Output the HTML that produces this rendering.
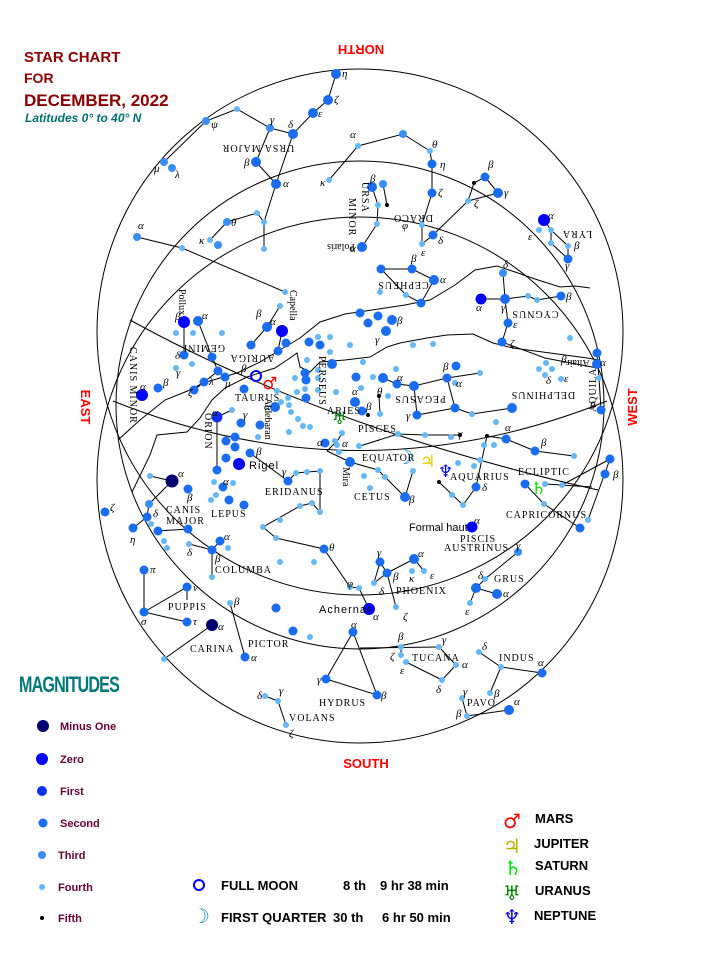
<!DOCTYPE html>
<html><head><meta charset="utf-8"><style>
html,body{margin:0;padding:0;background:#fff;}
svg{display:block;}
.l{stroke:#000;stroke-width:1;fill:none;}
.a{fill:#66b8f5}.b{fill:#3a8ef5}.c{fill:#1a6cf0}.d{fill:#0a30f0}.e{fill:#0000ff}.f{fill:#000070}.g{fill:#000}
.t{font-family:"Liberation Serif",serif;font-size:10px;letter-spacing:1px;fill:#000}
.gk{font-family:"Liberation Serif",serif;font-size:11px;font-style:italic;fill:#000}
.s{font-family:"Liberation Sans",sans-serif;font-size:11px;fill:#000}
.lg{font-family:"Liberation Sans",sans-serif;font-size:11px;font-weight:bold;fill:#660033}
.bt{font-family:"Liberation Sans",sans-serif;font-size:13px;font-weight:bold;fill:#000}
.dir{font-family:"Liberation Sans",sans-serif;font-size:13px;font-weight:bold;fill:#ff0000}
.pl{font-family:"DejaVu Sans",sans-serif;font-size:17px;font-weight:bold}
</style></head><body>
<svg width="719" height="959" viewBox="0 0 719 959" xmlns="http://www.w3.org/2000/svg">
<text x="24" y="62" style="font-family:'Liberation Sans',sans-serif;font-size:15px;font-weight:bold;fill:#8b0000">STAR CHART</text>
<text x="24" y="83" style="font-family:'Liberation Sans',sans-serif;font-size:14px;font-weight:bold;fill:#8b0000">FOR</text>
<text x="24" y="106" style="font-family:'Liberation Sans',sans-serif;font-size:17px;font-weight:bold;fill:#8b0000">DECEMBER, 2022</text>
<text x="25" y="122" style="font-family:'Liberation Sans',sans-serif;font-size:12px;font-weight:bold;font-style:italic;fill:#007070">Latitudes 0° to 40° N</text>

<text class="dir" transform="translate(361,45) rotate(180)" text-anchor="middle">NORTH</text>
<text class="dir" transform="translate(81,407) rotate(90)" text-anchor="middle">EAST</text>
<text class="dir" transform="translate(637,407) rotate(-90)" text-anchor="middle">WEST</text>
<text class="dir" x="366" y="768" text-anchor="middle">SOUTH</text>

<circle class="l" cx="360" cy="332" r="263"/>
<circle class="l" cx="360" cy="480" r="263"/>
<circle class="l" cx="360" cy="405" r="244"/>

<path class="l" d="M113,401 Q360,500 607,401"/>
<path class="l" d="M130,320 Q330,430 598,490"/>
<polyline class="l" points="118,440 140,420 165,400 190,390 203,383 237,373 260,362 280,350 300,338 320,322 345,314 372,310 405,305 430,300 455,285 475,270 497,266 515,272 535,279 560,287 575,286 590,288"/>
<polyline class="l" points="132,492 150,455 157,435 187,432 200,418 212,400 225,388 247,377 275,368 290,358 297,353 300,367 310,372 320,362 345,360 370,357 387,347 400,343 427,338 447,335 473,334 493,343 513,348 550,353 580,357 600,360"/>

<g class="l">
<polyline points="336,74 328,100 313,113 293,134 270,128 237,109 206,121 164,162"/>
<polyline points="270,128 256,162 276,184 293,134"/>
<polyline points="276,184 264,222 264,249"/>
<polyline points="264,222 257,213 227,222 210,240"/>
<polyline points="137,237 182,248 285,292"/>
<polyline points="329,180 358,146 403,134 430,151 432,164 432,193 422,225 422,244 433,235 468,201 474,183 485,177 498,193 468,201"/>
<polyline points="372,187 378,205 377,224 362,247"/><line x1="383" y1="184" x2="387" y2="205"/>
<polyline points="544,220 551,230 568,246 568,259 551,243 551,230"/>
<polyline points="381,269 412,269 434,280 421,303 406,295 381,269"/>
<polyline points="503,273 505,299 508,323 502,342"/><polyline points="481,299 505,299 528,296 537,300 561,296"/>
<polyline points="502,342 545,358 597,368"/><polyline points="597,353 599,378 601,410"/>
<polyline points="383,378 397,384 414,386 447,378 480,373"/><polyline points="447,378 455,408 417,415 414,386"/>
<polyline points="455,408 472,414 512,408"/><polyline points="379,396 380,414"/>
<polyline points="360,446 398,434 425,435 460,435"/>
<polyline points="327,451 338,440 342,433"/><polyline points="327,451 350,462"/>
<polyline points="350,462 378,470 385,477 405,497 413,471"/>
<polyline points="487,436 506,439 535,451 574,456"/>
<polyline points="439,482 463,505 476,487"/><polyline points="487,436 476,487"/>
<polyline points="525,484 544,504 580,528"/><polyline points="562,485 610,459 588,520"/><polyline points="545,484 592,487"/>
<polyline points="184,322 184,355"/><polyline points="198,321 212,357 218,371 225,377"/><polyline points="218,371 204,382 194,390"/>
<polyline points="267,327 280,306"/><polyline points="267,327 251,345"/><polyline points="282,331 278,351"/>
<polyline points="217,417 217,470"/><polyline points="217,417 232,410"/>
<polyline points="250,453 288,481 296,473 307,472 320,471 320,512 312,503 300,506 263,527 276,538 324,549 350,587 359,588 369,609"/>
<polyline points="150,476 172,481"/><polyline points="172,481 149,504 147,517 133,528"/><polyline points="158,531 188,529"/>
<polyline points="189,544 212,550 220,541"/><polyline points="212,550 212,577"/>
<polyline points="144,570 144,612 187,587 187,600"/><polyline points="144,612 187,622"/>
<polyline points="212,625 164,659"/><polyline points="230,603 245,657"/>
<polyline points="353,632 326,679 377,695 353,632"/>
<polyline points="265,696 278,701 286,725"/>
<polyline points="380,562 387,573 374,583 380,562"/><polyline points="387,573 414,559 424,571"/><polyline points="387,573 396,607"/>
<polyline points="518,552 485,579 476,588 497,594"/><polyline points="476,588 470,603"/>
<polyline points="360,648 439,647"/><polyline points="401,647 401,655"/><polyline points="406,662 442,680 456,665 439,647"/>
<polyline points="479,652 501,667 542,673"/><polyline points="501,667 490,693"/>
<polyline points="462,698 467,716 509,710"/>
</g>

<g>
<circle class="c" cx="336" cy="74" r="5"/><circle class="c" cx="328" cy="100" r="5"/><circle class="c" cx="313" cy="113" r="5"/><circle class="c" cx="293" cy="134" r="5"/><circle class="b" cx="270" cy="128" r="4"/><circle class="a" cx="237" cy="109" r="3"/><circle class="b" cx="206" cy="121" r="4"/><circle class="b" cx="164" cy="162" r="4"/><circle class="b" cx="172" cy="168" r="4"/>
<circle class="c" cx="256" cy="162" r="5"/><circle class="c" cx="276" cy="184" r="5"/><circle class="a" cx="264" cy="222" r="3"/><circle class="a" cx="257" cy="213" r="3"/><circle class="b" cx="227" cy="222" r="4"/><circle class="a" cx="210" cy="240" r="3"/><circle class="b" cx="218" cy="245" r="4"/><circle class="a" cx="264" cy="249" r="3"/>
<circle class="b" cx="137" cy="237" r="4"/><circle class="a" cx="182" cy="248" r="3"/><circle class="a" cx="285" cy="292" r="3"/>
<circle class="a" cx="329" cy="180" r="3"/><circle class="a" cx="358" cy="146" r="3"/><circle class="b" cx="403" cy="134" r="4"/><circle class="a" cx="430" cy="151" r="3"/><circle class="c" cx="432" cy="164" r="4.5"/><circle class="c" cx="432" cy="193" r="4.5"/><circle class="a" cx="422" cy="225" r="3"/><circle class="a" cx="422" cy="244" r="3"/><circle class="c" cx="433" cy="235" r="4.5"/><circle class="a" cx="468" cy="201" r="3"/><circle class="g" cx="474" cy="183" r="2"/><circle class="c" cx="485" cy="177" r="4.5"/><circle class="c" cx="498" cy="193" r="5"/>
<circle class="c" cx="372" cy="187" r="5"/><circle class="b" cx="383" cy="184" r="4"/><circle class="a" cx="378" cy="205" r="3"/><circle class="g" cx="387" cy="205" r="2"/><circle class="a" cx="377" cy="224" r="3"/><circle class="c" cx="362" cy="247" r="5"/>
<circle class="e" cx="544" cy="220" r="6"/><circle class="a" cx="539" cy="230" r="3"/><circle class="a" cx="551" cy="230" r="3"/><circle class="a" cx="551" cy="243" r="3"/><circle class="a" cx="568" cy="246" r="3"/><circle class="c" cx="568" cy="259" r="4.5"/>
<circle class="c" cx="381" cy="269" r="4.5"/><circle class="c" cx="412" cy="269" r="4.5"/><circle class="c" cx="434" cy="280" r="5"/><circle class="a" cx="406" cy="295" r="3"/><circle class="c" cx="421" cy="303" r="4.5"/>
<circle class="b" cx="503" cy="273" r="4"/><circle class="c" cx="505" cy="299" r="5"/><circle class="e" cx="481" cy="299" r="5.5"/><circle class="a" cx="528" cy="296" r="3"/><circle class="a" cx="537" cy="300" r="3"/><circle class="c" cx="561" cy="296" r="4.5"/><circle class="c" cx="508" cy="323" r="4.5"/><circle class="c" cx="502" cy="342" r="4.5"/>
<circle class="a" cx="570" cy="338" r="3"/><circle class="c" cx="597" cy="353" r="4.5"/><circle class="c" cx="597" cy="364" r="5"/><circle class="a" cx="599" cy="378" r="3"/><circle class="c" cx="601" cy="410" r="4.5"/>
<circle class="a" cx="546" cy="363" r="3"/><circle class="a" cx="539" cy="369" r="3"/><circle class="a" cx="552" cy="369" r="3"/><circle class="a" cx="545" cy="375" r="3"/><circle class="a" cx="561" cy="379" r="3"/>
<circle class="c" cx="360" cy="313" r="4.5"/><circle class="c" cx="368" cy="323" r="4.5"/><circle class="c" cx="378" cy="316" r="4.5"/><circle class="c" cx="392" cy="320" r="5"/><circle class="c" cx="386" cy="331" r="5"/><circle class="a" cx="380" cy="292" r="3"/><circle class="a" cx="433" cy="344" r="3"/><circle class="a" cx="413" cy="345" r="3"/><circle class="a" cx="350" cy="345" r="3"/>
<circle class="c" cx="383" cy="378" r="5"/><circle class="c" cx="397" cy="384" r="4.5"/><circle class="c" cx="414" cy="386" r="5"/><circle class="c" cx="447" cy="378" r="4.5"/><circle class="a" cx="455" cy="383" r="3"/><circle class="c" cx="456" cy="366" r="4.5"/><circle class="a" cx="480" cy="373" r="3"/><circle class="c" cx="417" cy="415" r="4.5"/><circle class="c" cx="455" cy="408" r="4.5"/><circle class="a" cx="472" cy="414" r="3"/><circle class="c" cx="512" cy="408" r="5"/><circle class="a" cx="363" cy="362" r="3"/><circle class="a" cx="373" cy="377" r="3"/><circle class="a" cx="396" cy="369" r="3"/><circle class="a" cx="496" cy="422" r="3"/><circle class="a" cx="388" cy="396" r="3"/>
<circle class="c" cx="356" cy="377" r="4.5"/><circle class="a" cx="361" cy="388" r="3"/><circle class="c" cx="355" cy="402" r="5"/><circle class="c" cx="362" cy="411" r="4.5"/><circle class="g" cx="368" cy="415" r="2"/><circle class="g" cx="379" cy="396" r="2"/><circle class="a" cx="380" cy="414" r="3"/><circle class="a" cx="336" cy="392" r="3"/>
<circle class="a" cx="398" cy="434" r="3"/><circle class="a" cx="425" cy="435" r="3"/><circle class="a" cx="451" cy="437" r="3"/><circle class="g" cx="460" cy="435" r="2"/><circle class="a" cx="359" cy="446" r="3"/>
<circle class="a" cx="342" cy="433" r="3"/><circle class="a" cx="335" cy="441" r="3"/><circle class="c" cx="325" cy="443" r="4.5"/><circle class="a" cx="337" cy="445" r="3"/><circle class="a" cx="339" cy="452" r="3"/><circle class="c" cx="350" cy="462" r="5"/><circle class="a" cx="364" cy="476" r="3"/><circle class="a" cx="370" cy="488" r="3"/><circle class="a" cx="378" cy="470" r="3"/><circle class="a" cx="385" cy="477" r="3"/><circle class="c" cx="405" cy="497" r="5"/><circle class="a" cx="413" cy="471" r="3"/>
<circle class="a" cx="458" cy="463" r="3"/><circle class="a" cx="474" cy="466" r="3"/><circle class="g" cx="439" cy="482" r="2"/><circle class="a" cx="452" cy="495" r="3"/><circle class="a" cx="463" cy="505" r="3"/><circle class="c" cx="476" cy="487" r="4.5"/><circle class="a" cx="480" cy="460" r="3"/>
<circle class="g" cx="487" cy="436" r="2"/><circle class="a" cx="484" cy="445" r="3"/><circle class="a" cx="494" cy="445" r="3"/><circle class="c" cx="506" cy="439" r="4.5"/><circle class="c" cx="535" cy="451" r="4.5"/><circle class="a" cx="574" cy="456" r="3"/>
<circle class="c" cx="525" cy="484" r="4.5"/><circle class="a" cx="545" cy="484" r="3"/><circle class="a" cx="562" cy="485" r="3"/><circle class="a" cx="544" cy="504" r="3"/><circle class="c" cx="610" cy="459" r="4.5"/><circle class="c" cx="605" cy="474" r="4.5"/><circle class="a" cx="588" cy="520" r="3"/><circle class="c" cx="580" cy="528" r="4.5"/>
<circle class="e" cx="184" cy="322" r="6"/><circle class="c" cx="198" cy="321" r="5"/><circle class="a" cx="176" cy="333" r="3"/><circle class="a" cx="193" cy="333" r="3"/><circle class="a" cx="222" cy="333" r="3"/><circle class="c" cx="184" cy="355" r="4.5"/><circle class="c" cx="212" cy="357" r="4.5"/><circle class="a" cx="192" cy="364" r="3"/><circle class="c" cx="218" cy="371" r="4.5"/><circle class="c" cx="225" cy="377" r="4.5"/><circle class="a" cx="176" cy="368" r="3"/><circle class="c" cx="204" cy="382" r="4.5"/><circle class="c" cx="194" cy="390" r="4.5"/>
<circle class="e" cx="142" cy="395" r="6"/><circle class="c" cx="158" cy="388" r="4.5"/>
<circle class="e" cx="282" cy="331" r="6"/><circle class="c" cx="267" cy="327" r="5"/><circle class="a" cx="280" cy="306" r="3"/><circle class="c" cx="251" cy="345" r="4.5"/><circle class="c" cx="286" cy="343" r="4.5"/><circle class="c" cx="278" cy="351" r="4.5"/><circle class="c" cx="244" cy="389" r="4.5"/><circle class="a" cx="277" cy="391" r="3"/>
<circle class="c" cx="309" cy="342" r="4.5"/><circle class="a" cx="318" cy="337" r="3"/><circle class="c" cx="320" cy="345" r="4.5"/><circle class="a" cx="330" cy="337" r="3"/><circle class="a" cx="330" cy="352" r="3"/><circle class="c" cx="332" cy="364" r="5"/><circle class="a" cx="307" cy="360" r="3"/><circle class="c" cx="305" cy="373" r="4.5"/><circle class="a" cx="318" cy="378" r="3"/><circle class="c" cx="306" cy="380" r="4.5"/><circle class="a" cx="305" cy="389" r="3"/><circle class="c" cx="306" cy="398" r="4.5"/><circle class="a" cx="318" cy="390" r="3"/><circle class="a" cx="295" cy="378" r="3"/><circle class="a" cx="297" cy="392" r="3"/><circle class="a" cx="318" cy="370" r="3"/>
<circle class="c" cx="275" cy="407" r="5"/><circle class="a" cx="281" cy="402" r="3"/><circle class="a" cx="289" cy="405" r="3"/><circle class="a" cx="291" cy="412" r="3"/><circle class="a" cx="298" cy="419" r="3"/><circle class="a" cx="303" cy="426" r="3"/><circle class="a" cx="310" cy="427" r="3"/><circle class="a" cx="289" cy="432" r="3"/><circle class="a" cx="288" cy="398" r="3"/>
<circle class="d" cx="217" cy="417" r="5.5"/><circle class="a" cx="232" cy="410" r="3"/><circle class="c" cx="241" cy="423" r="4.5"/><circle class="c" cx="235" cy="437" r="4.5"/><circle class="c" cx="226" cy="441" r="4.5"/><circle class="c" cx="235" cy="447" r="4.5"/><circle class="c" cx="260" cy="425" r="4.5"/><circle class="a" cx="258" cy="437" r="3"/><circle class="c" cx="226" cy="458" r="4.5"/><circle class="e" cx="239" cy="464" r="6"/><circle class="c" cx="217" cy="470" r="4.5"/>
<circle class="c" cx="223" cy="487" r="4.5"/><circle class="a" cx="214" cy="482" r="3"/><circle class="a" cx="233" cy="483" r="3"/><circle class="a" cx="211" cy="500" r="3"/><circle class="c" cx="229" cy="500" r="4.5"/><circle class="c" cx="244" cy="505" r="4.5"/><circle class="a" cx="216" cy="495" r="3"/>
<circle class="c" cx="250" cy="453" r="4.5"/><circle class="c" cx="288" cy="481" r="4.5"/><circle class="a" cx="296" cy="473" r="3"/><circle class="a" cx="307" cy="472" r="3"/><circle class="a" cx="320" cy="471" r="3"/><circle class="a" cx="320" cy="512" r="3"/><circle class="a" cx="312" cy="503" r="3"/><circle class="a" cx="300" cy="506" r="3"/><circle class="a" cx="263" cy="527" r="3"/><circle class="a" cx="276" cy="538" r="3"/><circle class="c" cx="324" cy="549" r="4.5"/><circle class="a" cx="350" cy="587" r="3"/><circle class="a" cx="359" cy="588" r="3"/><circle class="e" cx="369" cy="609" r="6"/><circle class="a" cx="280" cy="520" r="3"/><circle class="a" cx="314" cy="562" r="3"/><circle class="c" cx="276" cy="608" r="4.5"/>
<circle class="f" cx="172" cy="481" r="6.5"/><circle class="a" cx="150" cy="476" r="3"/><circle class="c" cx="188" cy="489" r="4.5"/><circle class="b" cx="149" cy="504" r="4"/><circle class="c" cx="147" cy="517" r="4.5"/><circle class="c" cx="133" cy="528" r="4.5"/><circle class="c" cx="158" cy="531" r="4.5"/><circle class="c" cx="188" cy="529" r="4.5"/><circle class="a" cx="151" cy="524" r="3"/><circle class="a" cx="164" cy="541" r="3"/><circle class="a" cx="167" cy="548" r="3"/><circle class="c" cx="105" cy="512" r="4.5"/>
<circle class="c" cx="220" cy="541" r="4.5"/><circle class="a" cx="228" cy="548" r="3"/><circle class="c" cx="212" cy="550" r="4.5"/><circle class="a" cx="189" cy="544" r="3"/><circle class="a" cx="212" cy="577" r="3"/><circle class="a" cx="280" cy="562" r="3"/>
<circle class="c" cx="144" cy="570" r="4.5"/><circle class="c" cx="187" cy="587" r="4.5"/><circle class="c" cx="144" cy="612" r="4.5"/><circle class="c" cx="187" cy="622" r="4.5"/>
<circle class="f" cx="212" cy="625" r="6"/><circle class="a" cx="164" cy="659" r="3"/><circle class="a" cx="230" cy="603" r="3"/><circle class="c" cx="245" cy="657" r="4.5"/>
<circle class="c" cx="293" cy="631" r="4.5"/><circle class="a" cx="310" cy="637" r="3"/>
<circle class="c" cx="353" cy="632" r="4.5"/><circle class="c" cx="326" cy="679" r="4.5"/><circle class="c" cx="377" cy="695" r="4.5"/>
<circle class="a" cx="265" cy="696" r="3"/><circle class="a" cx="278" cy="701" r="3"/><circle class="a" cx="286" cy="725" r="3"/>
<circle class="c" cx="380" cy="562" r="4.5"/><circle class="c" cx="387" cy="573" r="4.5"/><circle class="c" cx="414" cy="559" r="5"/><circle class="a" cx="412" cy="571" r="3"/><circle class="a" cx="424" cy="571" r="3"/><circle class="a" cx="374" cy="583" r="3"/><circle class="a" cx="396" cy="607" r="3"/>
<circle class="e" cx="472" cy="527" r="5.5"/>
<circle class="b" cx="518" cy="552" r="4"/><circle class="a" cx="485" cy="579" r="3"/><circle class="c" cx="476" cy="588" r="5"/><circle class="c" cx="497" cy="594" r="5"/><circle class="a" cx="470" cy="603" r="3"/>
<circle class="a" cx="401" cy="647" r="3"/><circle class="a" cx="439" cy="647" r="3"/><circle class="a" cx="401" cy="655" r="3"/><circle class="a" cx="406" cy="662" r="3"/><circle class="a" cx="442" cy="680" r="3"/><circle class="a" cx="456" cy="665" r="3"/>
<circle class="a" cx="479" cy="652" r="3"/><circle class="a" cx="501" cy="667" r="3"/><circle class="c" cx="542" cy="673" r="4.5"/><circle class="a" cx="490" cy="693" r="3"/>
<circle class="a" cx="462" cy="698" r="3"/><circle class="a" cx="467" cy="716" r="3"/><circle class="c" cx="509" cy="710" r="5"/>
</g>

<circle cx="256" cy="376" r="5" fill="none" stroke="#0000ff" stroke-width="2"/>
<text class="pl" x="262" y="389" fill="#ff0000">♂</text>
<text class="pl" x="332" y="424" fill="#008000">♅</text>
<text class="pl" x="396" y="464" fill="#1e90c8" style="font-size:20px">☽</text>
<text class="pl" x="420" y="467" fill="#e0d000">♃</text>
<text class="pl" x="438" y="477" fill="#0000ff">♆</text>
<text class="pl" x="531" y="494" fill="#00e000">♄</text>

<g class="t">
<text transform="translate(258,145) rotate(180)" text-anchor="middle">URSA MAJOR</text>
<text transform="translate(204,345) rotate(180)" text-anchor="middle">GEMINI</text>
<text transform="translate(252,355) rotate(180)" text-anchor="middle">AURIGA</text>
<text transform="translate(413,215) rotate(180)" text-anchor="middle">DRACO</text>
<text transform="translate(403,282) rotate(180)" text-anchor="middle">CEPHEUS</text>
<text transform="translate(535,311) rotate(180)" text-anchor="middle">CYGNUS</text>
<text transform="translate(420,396) rotate(180)" text-anchor="middle">PEGASUS</text>
<text transform="translate(543,392) rotate(180)" text-anchor="middle">DELPHINUS</text>
<text transform="translate(577,231) rotate(180)" text-anchor="middle">LYRA</text>
<text transform="translate(341,244) rotate(180)" text-anchor="middle" style="letter-spacing:0">Polaris</text>
<text transform="translate(578,360) rotate(180)" text-anchor="middle" style="letter-spacing:0">Altair</text>
<text transform="translate(362,182) rotate(90)">URSA</text>
<text transform="translate(349,198) rotate(90)">MINOR</text>
<text transform="translate(130,347) rotate(90)">CANIS MINOR</text>
<text transform="translate(205,413) rotate(90)">ORION</text>
<text transform="translate(265,398) rotate(90)" style="letter-spacing:0">Aldebaran</text>
<text transform="translate(290,290) rotate(90)" style="letter-spacing:0">Capella</text>
<text transform="translate(179,289) rotate(90)" style="letter-spacing:0">Pollux</text>
<text transform="translate(319,356) rotate(90)">PERSEUS</text>
<text transform="translate(343,467) rotate(90)" style="letter-spacing:0">Mira</text>
<text transform="translate(596,412) rotate(-90)">AQUILA</text>
<text x="235" y="401">TAURUS</text>
<text x="327" y="414">ARIES</text>
<text x="358" y="432">PISCES</text>
<text x="362" y="461">EQUATOR</text>
<text x="450" y="480">AQUARIUS</text>
<text x="518" y="475">ECLIPTIC</text>
<text x="265" y="495">ERIDANUS</text>
<text x="354" y="500">CETUS</text>
<text x="166" y="513">CANIS</text>
<text x="166" y="524">MAJOR</text>
<text x="211" y="517">LEPUS</text>
<text x="215" y="573">COLUMBA</text>
<text x="168" y="610">PUPPIS</text>
<text x="190" y="652">CARINA</text>
<text x="248" y="647">PICTOR</text>
<text x="506" y="518">CAPRICORNUS</text>
<text x="460" y="542">PISCIS</text>
<text x="444" y="551">AUSTRINUS</text>
<text x="396" y="594">PHOENIX</text>
<text x="494" y="582">GRUS</text>
<text x="412" y="661">TUCANA</text>
<text x="499" y="661">INDUS</text>
<text x="467" y="706">PAVO</text>
<text x="319" y="706">HYDRUS</text>
<text x="289" y="721">VOLANS</text>
</g>
<text class="s" x="249" y="469" style="letter-spacing:1px">Rigel</text>
<text class="s" x="409" y="531">Formal haut</text>
<text class="s" x="319" y="613" style="letter-spacing:1px">Achernar</text>

<g class="gk">
<text x="342" y="77">η</text><text x="334" y="103">ζ</text><text x="318" y="117">ε</text><text x="288" y="128">δ</text><text x="270" y="123">γ</text><text x="211" y="128">ψ</text><text x="154" y="172">μ</text><text x="175" y="178">λ</text><text x="244" y="166">β</text><text x="283" y="187">α</text><text x="231" y="226">θ</text><text x="199" y="244">κ</text><text x="138" y="229">α</text><text x="350" y="138">α</text><text x="320" y="186">κ</text>
<text x="432" y="148">θ</text><text x="440" y="168">η</text><text x="438" y="196">ζ</text><text x="402" y="229">φ</text><text x="421" y="256">ε</text><text x="438" y="244">δ</text><text x="474" y="207">ζ</text><text x="488" y="168">β</text><text x="504" y="196">γ</text>
<text x="370" y="182">β</text><text x="350" y="252">α</text><text x="548" y="219">α</text><text x="528" y="240">ε</text><text x="574" y="249">β</text><text x="565" y="269">γ</text>
<text x="411" y="262">β</text><text x="440" y="283">α</text><text x="503" y="268">δ</text><text x="476" y="311">α</text><text x="501" y="311">γ</text><text x="566" y="300">β</text><text x="513" y="328">ε</text><text x="510" y="347">ζ</text>
<text x="600" y="366">α</text><text x="590" y="409">θ</text><text x="561" y="363">β</text><text x="546" y="384">δ</text><text x="564" y="382">ε</text>
<text x="375" y="343">γ</text><text x="397" y="324">β</text><text x="377" y="395">θ</text><text x="397" y="381">α</text><text x="443" y="370">β</text><text x="456" y="387">α</text><text x="406" y="419">γ</text><text x="458" y="437">γ</text>
<text x="352" y="395">α</text><text x="366" y="410">β</text><text x="317" y="446">α</text><text x="342" y="447">α</text><text x="409" y="503">β</text><text x="505" y="431">α</text><text x="541" y="446">β</text><text x="482" y="491">δ</text><text x="613" y="478">β</text>
<text x="175" y="320">β</text><text x="202" y="319">α</text><text x="175" y="359">δ</text><text x="176" y="376">γ</text><text x="188" y="396">ζ</text><text x="209" y="385">λ</text><text x="225" y="387">μ</text><text x="140" y="390">α</text><text x="163" y="386">β</text>
<text x="270" y="325">α</text><text x="256" y="317">β</text><text x="241" y="372">β</text><text x="264" y="410">α</text>
<text x="212" y="416">α</text><text x="243" y="418">γ</text><text x="256" y="455">β</text><text x="223" y="485">α</text><text x="282" y="475">γ</text>
<text x="178" y="477">α</text><text x="187" y="501">β</text><text x="153" y="517">δ</text><text x="130" y="543">η</text><text x="110" y="511">ζ</text>
<text x="224" y="540">α</text><text x="187" y="556">δ</text><text x="215" y="562">β</text><text x="150" y="573">π</text><text x="193" y="591">ν</text><text x="141" y="625">σ</text><text x="193" y="625">τ</text>
<text x="218" y="630">α</text><text x="234" y="605">β</text><text x="251" y="661">α</text><text x="329" y="551">θ</text><text x="347" y="587">φ</text><text x="373" y="620">α</text>
<text x="351" y="628">α</text><text x="317" y="683">γ</text><text x="381" y="699">β</text><text x="257" y="699">δ</text><text x="279" y="694">γ</text><text x="289" y="737">ζ</text>
<text x="377" y="556">γ</text><text x="393" y="580">β</text><text x="418" y="557">α</text><text x="409" y="582">κ</text><text x="430" y="579">ε</text><text x="379" y="595">δ</text><text x="403" y="620">ζ</text><text x="474" y="524">α</text>
<text x="516" y="549">γ</text><text x="478" y="579">δ</text><text x="503" y="597">α</text><text x="465" y="615">ε</text>
<text x="398" y="640">β</text><text x="442" y="643">γ</text><text x="390" y="660">ζ</text><text x="400" y="674">ε</text><text x="436" y="693">δ</text><text x="462" y="668">α</text>
<text x="482" y="650">δ</text><text x="538" y="666">α</text><text x="494" y="697">β</text><text x="463" y="695">γ</text><text x="456" y="717">β</text><text x="514" y="705">α</text>
</g>

<text x="19" y="692" style="font-family:'Liberation Sans',sans-serif;font-size:19px;font-weight:bold;fill:#007878;letter-spacing:-1px" transform="translate(19,692) scale(0.85,1.15) translate(-19,-692)">MAGNITUDES</text>
<circle class="f" cx="43" cy="726" r="6"/><text class="lg" x="60" y="730">Minus One</text>
<circle class="e" cx="42" cy="759" r="6"/><text class="lg" x="60" y="763">Zero</text>
<circle class="d" cx="42" cy="791" r="5"/><text class="lg" x="60" y="795">First</text>
<circle class="c" cx="43" cy="823" r="4.5"/><text class="lg" x="60" y="827">Second</text>
<circle class="b" cx="42" cy="855" r="4"/><text class="lg" x="58" y="859">Third</text>
<circle class="a" cx="42" cy="887" r="3"/><text class="lg" x="58" y="891">Fourth</text>
<circle class="g" cx="42" cy="918" r="2"/><text class="lg" x="58" y="922">Fifth</text>

<circle cx="199" cy="885" r="5" fill="none" stroke="#0000ff" stroke-width="2"/>
<text class="bt" x="221" y="890">FULL   MOON</text>
<text class="bt" x="343" y="890">8 th</text><text class="bt" x="380" y="890">9 hr  38 min</text>
<text class="pl" x="192" y="923" fill="#1e90c8" style="font-size:20px">☽</text>
<text class="bt" x="221" y="922">FIRST QUARTER</text>
<text class="bt" x="333" y="922">30 th</text><text class="bt" x="382" y="922">6 hr  50 min</text>

<text class="pl" x="503" y="828" fill="#ff0000" style="font-size:20px">♂</text><text class="bt" x="535" y="823">MARS</text>
<text class="pl" x="503" y="853" fill="#b8b000" style="font-size:20px">♃</text><text class="bt" x="534" y="848">JUPITER</text>
<text class="pl" x="504" y="875" fill="#00e000" style="font-size:20px">♄</text><text class="bt" x="535" y="870">SATURN</text>
<text class="pl" x="503" y="900" fill="#008000" style="font-size:20px">♅</text><text class="bt" x="535" y="895">URANUS</text>
<text class="pl" x="503" y="924" fill="#0000ff" style="font-size:20px">♆</text><text class="bt" x="534" y="920">NEPTUNE</text>
</svg>
</body></html>
